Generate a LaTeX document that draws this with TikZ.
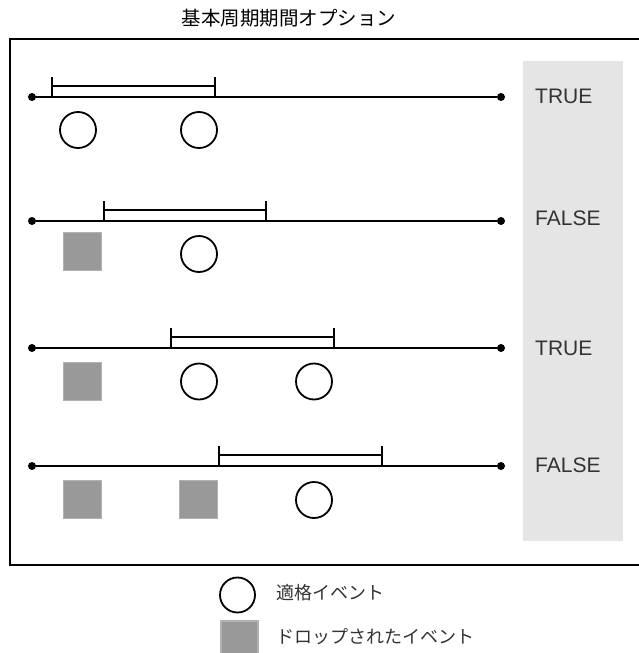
\documentclass[tikz,border=0pt]{standalone}
\usepackage{fontspec}
\setmainfont{Liberation Sans}
\newfontfamily\jp{Noto Sans CJK JP}
\definecolor{dropgray}{RGB}{153,153,153}
\definecolor{colgray}{RGB}{229,229,229}
\definecolor{labelgray}{RGB}{51,51,51}
\begin{document}
\begin{tikzpicture}[x=1pt,y=-1pt,
  frame/.style={line width=2pt},
  tline/.style={line width=2pt},
  brk/.style={line width=1.8pt},
  evt/.style={circle, draw, line width=1.8pt, minimum size=36pt, inner sep=0pt},
  drop/.style={rectangle, fill=dropgray, draw=dropgray!75, line width=1.2pt, minimum size=38pt, inner sep=0pt},
  endpt/.style={circle, fill=black, minimum size=8pt, inner sep=0pt},
  lbl/.style={font=\fontsize{21}{24}\selectfont, text=labelgray, anchor=west, inner sep=0pt},
  title/.style={font=\jp\fontsize{19.5}{22}\selectfont, inner sep=0pt},
  legtxt/.style={font=\jp\fontsize{18}{20}\selectfont, text=labelgray, anchor=west, inner sep=0pt}]
\useasboundingbox (0,0) rectangle (639,653);
% title
\node[title] (ttl) at (289,18) {基本周期期間オプション};
% frame
\draw[frame] (650,39) -| (10,565) -- (650,565);
% gray column
\fill[colgray] (523,61) rectangle (623,541);
% rows
\foreach \r/\y/\a/\b in {1/97/52/215, 2/221/104/266, 3/348/171/334, 4/466/219/382}{
  \node[endpt] (l\r) at (32,\y) {};
  \node[endpt] (r\r) at (501,\y) {};
  \draw[tline] (l\r) -- (r\r);
  \coordinate (ba\r) at (\a,\y);
  \coordinate (bb\r) at (\b,\y);
  \draw[brk] ([yshift=-1pt]ba\r) -- ([yshift=20pt]ba\r);
  \draw[brk] ([yshift=-1pt]bb\r) -- ([yshift=20pt]bb\r);
  \draw[brk] ([yshift=11pt]ba\r) -- ([yshift=11pt]bb\r);
}
% labels
\node[lbl] (t1) at (535,96) {TRUE};
\node[lbl] (t2) at (535,218) {FALSE};
\node[lbl] (t3) at (535,348) {TRUE};
\node[lbl] (t4) at (535,465) {FALSE};
% row 1
\node[evt] (e11) at (78,130) {};
\node[evt] (e12) at (199,130) {};
% row 2
\node[drop] (d21) at (82.5,251.5) {};
\node[evt] (e22) at (199,254) {};
% row 3
\node[drop] (d31) at (82.5,381.5) {};
\node[evt] (e32) at (199,381.5) {};
\node[evt] (e33) at (314,381.5) {};
% row 4
\node[drop] (d41) at (82.5,499.5) {};
\node[drop] (d42) at (198.5,499.5) {};
\node[evt] (e43) at (314,500) {};
% legend
\node[evt, minimum size=35pt] (legc) at (237.5,595) {};
\node[legtxt] (legct) at (276,593) {適格イベント};
\node[drop, minimum size=37pt] (legd) at (239.5,639.5) {};
\node[legtxt] (legdt) at (276,637) {ドロップされたイベント};
\end{tikzpicture}
\end{document}
